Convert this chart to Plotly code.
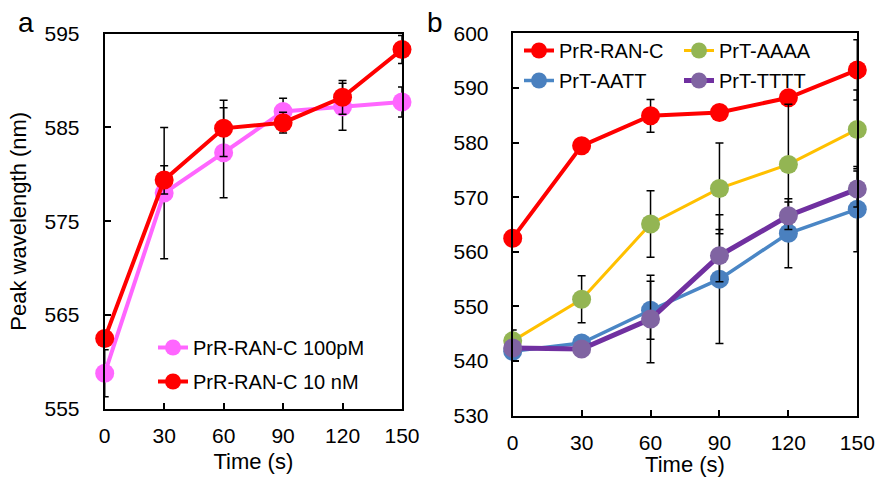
import plotly.graph_objects as go

# ---------------- data ----------------
time_s = [0, 30, 60, 90, 120, 150]

# panel a
ran_c_100pM = [558.8, 578.0, 582.3, 586.7, 587.2, 587.7]
ran_c_100pM_err = [2.5, 7.0, 4.8, 1.4, 2.5, 1.6]
ran_c_10nM = [562.5, 579.4, 584.9, 585.5, 588.2, 593.3]
ran_c_10nM_err = [0.5, 1.5, 3.0, 1.1, 1.8, 1.5]

# panel b
prr_ran_c = [562.5, 579.4, 584.9, 585.5, 588.2, 593.3]
prr_ran_c_err = [0.5, 0.5, 3.0, 0.5, 0.5, 5.5]
prt_aaaa = [543.7, 551.3, 565.1, 571.6, 576.0, 582.4]
prt_aaaa_err = [2.0, 4.3, 6.1, 8.3, 11.0, 7.2]
prt_aatt = [541.8, 543.3, 549.3, 555.0, 563.4, 567.8]
prt_aatt_err = [0.6, 0.6, 5.3, 11.8, 6.3, 7.8]
prt_tttt = [542.4, 542.2, 547.7, 559.3, 566.6, 571.5]
prt_tttt_err = [0.6, 0.6, 8.0, 4.8, 2.5, 3.3]

x_ticks = [0, 30, 60, 90, 120, 150]
ya_ticks = [555, 565, 575, 585, 595]
yb_ticks = [530, 540, 550, 560, 570, 580, 590, 600]

FONT = "Liberation Sans, Arial, sans-serif"
MS = 19

W, H = 878, 477


def px(x):
    return x / W


def py(y):
    return 1 - y / H


def err(vals):
    return dict(type="data", array=vals, visible=True, color="black",
                thickness=1.5, width=4)


fig = go.Figure()

# panel a
fig.add_trace(go.Scatter(
    x=time_s, y=ran_c_100pM, name="PrR-RAN-C 100pM", mode="lines+markers",
    line=dict(color="#FF66FF", width=4), marker=dict(color="#FF66FF", size=MS),
    error_y=err(ran_c_100pM_err), xaxis="x", yaxis="y", legend="legend",
    legendgroup="a1", cliponaxis=False))
fig.add_trace(go.Scatter(
    x=time_s, y=ran_c_10nM, name="PrR-RAN-C 10 nM", mode="lines+markers",
    line=dict(color="#FF0000", width=4), marker=dict(color="#FF0000", size=MS),
    error_y=err(ran_c_10nM_err), xaxis="x", yaxis="y", legend="legend",
    legendgroup="a2", cliponaxis=False))

# panel b
fig.add_trace(go.Scatter(
    x=time_s, y=prr_ran_c, name="PrR-RAN-C", mode="lines+markers",
    line=dict(color="#FF0000", width=4), marker=dict(color="#FF0000", size=MS),
    error_y=err(prr_ran_c_err), xaxis="x2", yaxis="y2", legend="legend2",
    legendgroup="b1", cliponaxis=False))
fig.add_trace(go.Scatter(
    x=time_s, y=prt_aaaa, name="PrT-AAAA", mode="lines+markers",
    line=dict(color="#FFC000", width=3), marker=dict(color="#93B553", size=MS),
    error_y=err(prt_aaaa_err), xaxis="x2", yaxis="y2", legend="legend3",
    legendgroup="b2", cliponaxis=False))
fig.add_trace(go.Scatter(
    x=time_s, y=prt_aatt, name="PrT-AATT", mode="lines+markers",
    line=dict(color="#4A86C5", width=3.5), marker=dict(color="#4A80BF", size=MS),
    error_y=err(prt_aatt_err), xaxis="x2", yaxis="y2", legend="legend2",
    legendgroup="b3", cliponaxis=False))
fig.add_trace(go.Scatter(
    x=time_s, y=prt_tttt, name="PrT-TTTT", mode="lines+markers",
    line=dict(color="#7030A0", width=5), marker=dict(color="#8064A2", size=MS),
    error_y=err(prt_tttt_err), xaxis="x2", yaxis="y2", legend="legend3",
    legendgroup="b4", cliponaxis=False))

axis_common = dict(showline=True, linecolor="black", linewidth=2, mirror=True,
                   ticks="inside", ticklen=6, tickwidth=1.5, tickcolor="black",
                   showgrid=False, zeroline=False, automargin=False,
                   tickfont=dict(family=FONT, size=21, color="black"))

fig.update_layout(
    width=W, height=H,
    margin=dict(l=0, r=0, t=0, b=0),
    paper_bgcolor="white", plot_bgcolor="white",
    font=dict(family=FONT, color="black"),
    xaxis=dict(domain=[px(104.7), px(402)], range=[0, 150], tickvals=x_ticks,
               ticklabelstandoff=7,
               title=dict(text="Time (s)", font=dict(size=22), standoff=7),
               **axis_common),
    yaxis=dict(domain=[py(409), py(33.5)], range=[555, 595], tickvals=ya_ticks,
               ticklabelstandoff=19,
               title=dict(text="Peak wavelength (nm)", font=dict(size=22), standoff=12),
               **axis_common),
    xaxis2=dict(domain=[px(512.7), px(857.3)], range=[0, 150], tickvals=x_ticks,
                ticklabelstandoff=7, anchor="y2",
                title=dict(text="Time (s)", font=dict(size=22), standoff=0),
                **axis_common),
    yaxis2=dict(domain=[py(415.7), py(33.3)], range=[530, 600], tickvals=yb_ticks,
                ticklabelstandoff=18, anchor="x2",
                **axis_common),
    legend=dict(x=px(153), y=py(328), xanchor="left", yanchor="top",
                bgcolor="rgba(0,0,0,0)", tracegroupgap=5,
                font=dict(family=FONT, size=20, color="black")),
    legend2=dict(x=px(519), y=py(31), xanchor="left", yanchor="top",
                 bgcolor="rgba(0,0,0,0)", tracegroupgap=1,
                 font=dict(family=FONT, size=20, color="black")),
    legend3=dict(x=px(679), y=py(31), xanchor="left", yanchor="top",
                 bgcolor="rgba(0,0,0,0)", tracegroupgap=1,
                 font=dict(family=FONT, size=20, color="black")),
    annotations=[
        dict(text="a", x=px(25.5), y=py(23), xref="paper", yref="paper",
             xanchor="center", yanchor="middle", showarrow=False,
             font=dict(family=FONT, size=28, color="black")),
        dict(text="b", x=px(435), y=py(22), xref="paper", yref="paper",
             xanchor="center", yanchor="middle", showarrow=False,
             font=dict(family=FONT, size=28, color="black")),
    ],
)

fig.write_html("out.html",
               config={"displayModeBar": False},
               post_script="document.body.style.margin='0';"
                           "document.body.style.overflow='hidden';")
